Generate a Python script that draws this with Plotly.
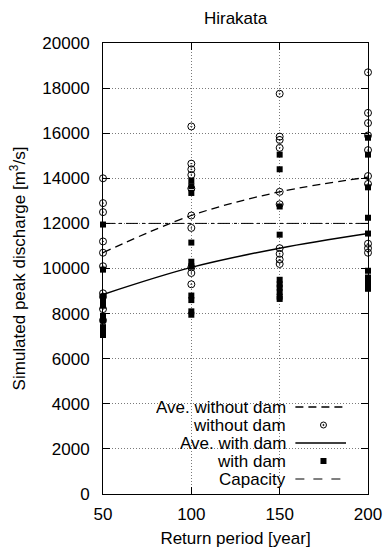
import plotly.graph_objects as go

# Return periods (years) on the x axis
return_periods = [50, 100, 150, 200]

# Simulated peak discharge [m3/s] for each ensemble member, without dam
without_dam_50 = [14000, 12900, 12500, 11200, 10700, 10100, 8900, 8750, 8200, 7700]
without_dam_100 = [16300, 14650, 14400, 14150, 13550, 12350, 11800, 10050, 9800, 9300]
without_dam_150 = [17750, 15850, 15700, 15350, 13400, 12850, 10900, 10650, 10400, 10200]
without_dam_200 = [18700, 16900, 16450, 15900, 15250, 14100, 13750, 11100, 10900, 10700]

# Simulated peak discharge [m3/s] for each ensemble member, with dam
with_dam_50 = [11950, 9950, 8750, 8550, 8350, 7900, 7700, 7400, 7200, 7050]
with_dam_100 = [13900, 13650, 13350, 11150, 10300, 10100, 8800, 8600, 8100, 7950]
with_dam_150 = [15050, 14400, 12750, 11500, 9500, 9300, 9150, 8950, 8750, 8650]
with_dam_200 = [15800, 15050, 13600, 12250, 11550, 9900, 9600, 9400, 9200, 9100]

# Average curves
ave_without_dam = [10700, 12350, 13400, 14050]
ave_with_dam = [8850, 10050, 10900, 11550]

# River channel capacity [m3/s]
capacity = 12000

x_ticks = [50, 100, 150, 200]
y_ticks = [0, 2000, 4000, 6000, 8000, 10000, 12000, 14000, 16000, 18000, 20000]

FONT = "Liberation Sans, Arial, Helvetica, sans-serif"
FS = 17

without_groups = [without_dam_50, without_dam_100, without_dam_150, without_dam_200]
with_groups = [with_dam_50, with_dam_100, with_dam_150, with_dam_200]

wo_x, wo_y, wi_x, wi_y = [], [], [], []
for t, vals in zip(return_periods, without_groups):
    wo_x += [t] * len(vals)
    wo_y += vals
for t, vals in zip(return_periods, with_groups):
    wi_x += [t] * len(vals)
    wi_y += vals

fig = go.Figure()

fig.add_trace(go.Scatter(
    x=return_periods, y=ave_without_dam, mode="lines",
    line=dict(color="black", width=1.3, dash="8px,5px", shape="spline"),
    name="Ave. without dam", cliponaxis=False))
fig.add_trace(go.Scatter(
    x=wo_x, y=wo_y, mode="markers",
    marker=dict(symbol="circle-open-dot", size=7, color="black", line=dict(width=1)),
    name="without dam", cliponaxis=False))
fig.add_trace(go.Scatter(
    x=return_periods, y=ave_with_dam, mode="lines",
    line=dict(color="black", width=1.5, shape="spline"),
    name="Ave. with dam", cliponaxis=False))
fig.add_trace(go.Scatter(
    x=wi_x, y=wi_y, mode="markers",
    marker=dict(symbol="square", size=6, color="black"),
    name="with dam", cliponaxis=False))
fig.add_trace(go.Scatter(
    x=[return_periods[0], return_periods[-1]], y=[capacity, capacity], mode="lines",
    line=dict(color="black", width=1, dash="12px,4px,3px,4px"),
    name="Capacity", cliponaxis=False))

# Key in the lower right: right-aligned labels with samples to their right
W_PLOT = 265.0
H_PLOT = 451.0
def px_x(p):
    return p / W_PLOT
def px_y(p):
    return p / H_PLOT

key_labels = ["Ave. without dam", "without dam", "Ave. with dam", "with dam", "Capacity"]
# rows 18 px apart, measured up from the bottom of the plot area
key_rows = [px_y(87), px_y(69), px_y(51), px_y(33), px_y(15)]
text_right = 0.694
line_x0, line_x1 = 0.726, 0.917
mark_x = 0.832

annotations = []
shapes = []
for lab, yy in zip(key_labels, key_rows):
    annotations.append(dict(
        x=text_right, y=yy, xref="paper", yref="paper", text=lab,
        showarrow=False, xanchor="right", yanchor="middle", height=17,
        valign="middle", borderpad=0,
        font=dict(family=FONT, size=FS, color="black")))

# line samples
shapes.append(dict(type="line", xref="paper", yref="paper",
                   x0=line_x0, x1=line_x1, y0=key_rows[0], y1=key_rows[0],
                   line=dict(color="black", width=1.3, dash="8px,5px")))
shapes.append(dict(type="line", xref="paper", yref="paper",
                   x0=line_x0, x1=line_x1, y0=key_rows[2], y1=key_rows[2],
                   line=dict(color="black", width=1.5)))
shapes.append(dict(type="line", xref="paper", yref="paper",
                   x0=line_x0, x1=line_x1, y0=key_rows[4], y1=key_rows[4],
                   line=dict(color="black", width=1, dash="9px,9px")))
# marker samples
r = 3.0
shapes.append(dict(type="circle", xref="paper", yref="paper",
                   x0=mark_x - px_x(r), x1=mark_x + px_x(r),
                   y0=key_rows[1] - px_y(r), y1=key_rows[1] + px_y(r),
                   line=dict(color="black", width=1)))
shapes.append(dict(type="circle", xref="paper", yref="paper",
                   x0=mark_x - px_x(0.7), x1=mark_x + px_x(0.7),
                   y0=key_rows[1] - px_y(0.7), y1=key_rows[1] + px_y(0.7),
                   fillcolor="black", line=dict(color="black", width=0.5)))
shapes.append(dict(type="rect", xref="paper", yref="paper",
                   x0=mark_x - px_x(3), x1=mark_x + px_x(3),
                   y0=key_rows[3] - px_y(3), y1=key_rows[3] + px_y(3),
                   fillcolor="black", line=dict(color="black", width=0)))

axis_common = dict(
    showline=True, linecolor="black", linewidth=1, mirror="allticks",
    ticks="inside", ticklen=7, tickwidth=1, tickcolor="black",
    showgrid=True, gridcolor="#7a7a7a", gridwidth=1, griddash="1px,2px",
    zeroline=False, automargin=False,
    tickfont=dict(family=FONT, size=FS, color="black"),
)

fig.update_layout(
    width=385, height=549,
    margin=dict(l=103, r=17, t=43, b=55),
    paper_bgcolor="white", plot_bgcolor="white",
    showlegend=False,
    font=dict(family=FONT, size=FS, color="black"),
    title=dict(text="Hirakata", x=0.612, xanchor="center", y=1 - 18 / 549,
               yanchor="middle", font=dict(family=FONT, size=FS, color="black")),
    xaxis=dict(range=[50, 200], tickvals=x_ticks, ticktext=[str(v) for v in x_ticks],
               ticklabelstandoff=5,
               title=dict(text="Return period [year]", standoff=8,
                          font=dict(family=FONT, size=FS, color="black")),
               **axis_common),
    yaxis=dict(range=[0, 20000], tickvals=y_ticks, ticktext=[str(v) for v in y_ticks],
               ticklabelstandoff=9,
               title=dict(text="Simulated peak discharge [m<sup>3</sup>/s]", standoff=12,
                          font=dict(family=FONT, size=FS, color="black")),
               **axis_common),
    annotations=annotations,
    shapes=shapes,
)

fig.write_html("out.html")
